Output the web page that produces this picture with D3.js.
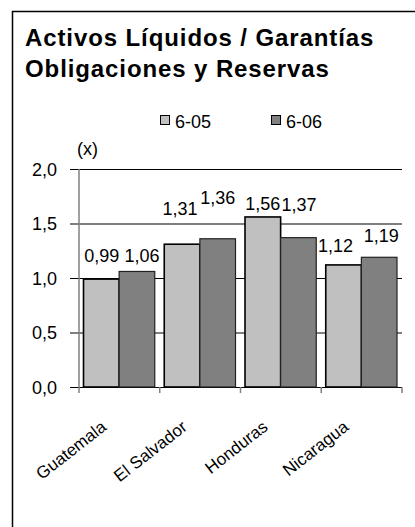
<!DOCTYPE html>
<html>
<head>
<meta charset="utf-8">
<script src="https://cdn.jsdelivr.net/npm/d3@7"></script>
<style>
  html, body { margin: 0; padding: 0; background: #fff; }
  svg { display: block; font-family: "Liberation Sans", Arial, sans-serif; }
</style>
</head>
<body>
<svg id="chart" width="415" height="527"></svg>
<script>
// Country groups and the two period series
const categories = ["Guatemala", "El Salvador", "Honduras", "Nicaragua"];
const seriesNames = ["6-05", "6-06"];
const values0605 = [0.99, 1.31, 1.56, 1.12];
const values0606 = [1.06, 1.36, 1.37, 1.19];
const yTicks = [0, 0.5, 1.0, 1.5, 2.0];
const seriesColors = ["#c0c0c0", "#808080"];

// Small hand nudges for the value labels [dx, dy], per country and series
const labelNudge = [
  [[0.5, -9], [5, -1.5]],
  [[-2, -21], [0, -27]],
  [[0, 1.5], [0.5, -19]],
  [[-8, -5], [2, -7.5]]
];

const svg = d3.select("#chart");
const fmt2 = v => d3.format(".2f")(v).replace(".", ",");
const fmt1 = v => d3.format(".1f")(v).replace(".", ",");

// Outer frame (open to the right and bottom)
svg.append("path")
  .attr("d", "M12.5,527 V11.5 H415")
  .attr("fill", "none").attr("stroke", "#000").attr("stroke-width", 1.5);

// Title
const title = svg.append("text")
  .attr("x", 25).attr("font-weight", "bold").attr("font-size", 24)
  .attr("letter-spacing", 0.9).attr("fill", "#000");
title.append("tspan").attr("x", 25).attr("y", 46).text("Activos Líquidos / Garantías");
title.append("tspan").attr("x", 25).attr("y", 77).text("Obligaciones y Reservas");

// Legend
const legend = svg.append("g");
seriesNames.forEach((name, i) => {
  const lx = 160 + i * 111;
  legend.append("rect")
    .attr("x", lx + 0.5).attr("y", 115.5).attr("width", 9).attr("height", 9)
    .attr("fill", seriesColors[i]).attr("stroke", "#000").attr("stroke-width", 1);
  legend.append("text")
    .attr("x", lx + 15).attr("y", 128).attr("font-size", 18).text(name);
});

// Scales
const y = d3.scaleLinear().domain([0, 2]).range([387, 169]);
const x0 = d3.scaleBand().domain(categories).range([79, 402]);
const x1 = d3.scaleBand().domain(seriesNames).range([4.5, x0.bandwidth() - 5]);

// Horizontal gridlines with tick stubs and labels
const yAxis = d3.axisLeft(y).tickValues(yTicks).tickFormat(fmt1)
  .tickSize(-(402 - 70)).tickPadding(12);
const gy = svg.append("g").attr("transform", "translate(70,0)").call(yAxis);
gy.select(".domain").remove();
gy.selectAll(".tick line").attr("stroke", "#000").attr("stroke-width", 1.2);
gy.selectAll(".tick text")
  .attr("font-size", 18).attr("font-family", "Liberation Sans, Arial, sans-serif")
  .attr("fill", "#000").attr("x", -13).attr("dy", "0.36em");

// Unit label
svg.append("text").attr("x", 77).attr("y", 155).attr("font-size", 18).text("(x)");

// Bars
const rows = categories.map((c, i) => ({ cat: c, vals: [values0605[i], values0606[i]] }));
const groups = svg.append("g").selectAll("g").data(rows).join("g")
  .attr("transform", d => `translate(${x0(d.cat)},0)`);

groups.selectAll("rect")
  .data(d => d.vals.map((v, j) => ({ s: seriesNames[j], v, j })))
  .join("rect")
  .attr("x", d => x1(d.s)).attr("width", x1.bandwidth())
  .attr("y", d => y(d.v)).attr("height", d => y(0) - y(d.v))
  .attr("fill", d => seriesColors[d.j])
  .attr("stroke", d => d.j === 0 ? "#000" : "#222")
  .attr("stroke-width", d => d.j === 0 ? 1.6 : 1.2);

// Value labels
groups.each(function (d, ci) {
  d3.select(this).selectAll("text.val")
    .data(d.vals.map((v, j) => ({ s: seriesNames[j], v, j })))
    .join("text").attr("class", "val")
    .attr("x", e => x1(e.s) + x1.bandwidth() / 2 + labelNudge[ci][e.j][0])
    .attr("y", e => y(e.v) - 8 + labelNudge[ci][e.j][1])
    .attr("text-anchor", "middle").attr("font-size", 18)
    .text(e => fmt2(e.v));
});

// Y axis line (grey)
svg.append("line")
  .attr("x1", 79).attr("x2", 79).attr("y1", 169).attr("y2", 393)
  .attr("stroke", "#808080").attr("stroke-width", 1.5);

// Category boundary ticks along the bottom
const bounds = categories.map(c => x0(c) + x0.bandwidth());
svg.append("g").selectAll("line").data(bounds).join("line")
  .attr("x1", d => d).attr("x2", d => d).attr("y1", 387).attr("y2", 393)
  .attr("stroke", "#808080").attr("stroke-width", 1.5);

// Rotated category labels
svg.append("g").selectAll("text").data(categories).join("text")
  .attr("transform", c => `translate(${x0(c) + x0.bandwidth() / 2 - 12},${429}) rotate(-38)`)
  .attr("text-anchor", "end").attr("font-size", 17)
  .text(c => c);
</script>
</body>
</html>
